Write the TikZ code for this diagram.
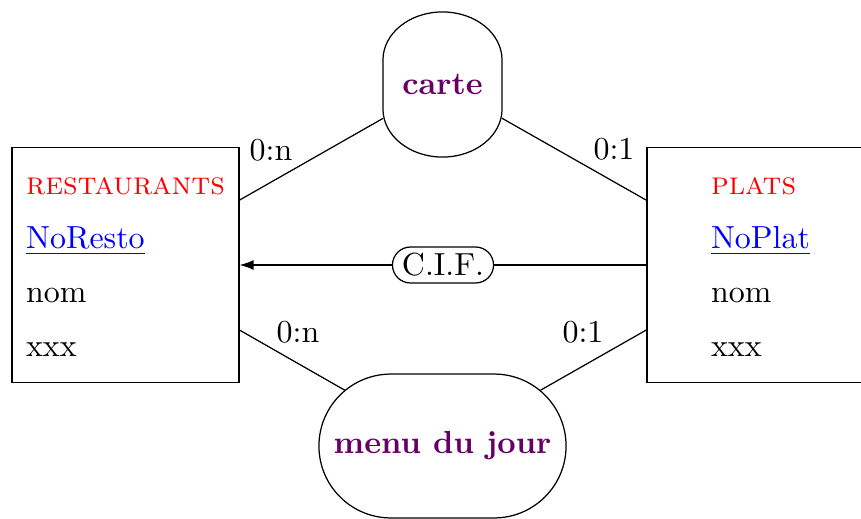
\documentclass[tikz,border=0pt]{standalone}
\usetikzlibrary{shapes.misc,arrows.meta}
\definecolor{relcol}{RGB}{102,0,102}
\newcommand\myfont{\fontsize{10.3pt}{12.4pt}\selectfont}
\begin{document}
\begin{tikzpicture}[x=0.3225pt,y=0.3225pt,
  every node/.style={font=\myfont},
  entity/.style={draw, rectangle, minimum width=73.2pt, minimum height=75.5pt, inner sep=3pt},
  relbox/.style={draw=none, rectangle, outer sep=0pt, minimum width=38.4pt, minimum height=46.8pt, inner sep=0pt, font=\myfont\bfseries, text=relcol},
  relround/.style={draw, rounded rectangle, minimum width=79.7pt, minimum height=46.4pt, inner sep=0pt, font=\myfont\bfseries, text=relcol},
  cif/.style={draw, fill=white, rectangle, rounded corners=5.8pt, minimum width=32.6pt, minimum height=11.6pt, inner sep=0pt},
  card/.style={anchor=base, inner sep=0pt},
  link/.style={line width=0.4pt}]
\useasboundingbox (0,0) rectangle (861,518);
\clip (0,0) rectangle (861,518);
% entities
\node[entity] (resto) at (125.5,253) {\renewcommand\arraystretch{1.403}\begin{tabular}{@{}l@{}}\textcolor{red}{\textsc{restaurants}}\\ \textcolor{blue}{\underline{NoResto}}\\ nom\\ xxx\end{tabular}};
\node[entity] (plats) at (760.5,253) {\renewcommand\arraystretch{1.403}\begin{tabular}{@{}l@{}}\textcolor{red}{\textsc{plats}}\\ \textcolor{blue}{\underline{NoPlat}}\\ nom\\ xxx\end{tabular}};
% relations
\node[relbox] (carte) at (442.5,433.5) {carte};
\draw[link] ([yshift=-15.48pt]carte.north west) -- ([yshift=15.48pt]carte.south west)
  arc[start angle=180, end angle=270, x radius=19.2pt, y radius=15.48pt]
  arc[start angle=270, end angle=360, x radius=19.2pt, y radius=15.48pt]
  -- ([yshift=-15.48pt]carte.north east)
  arc[start angle=0, end angle=90, x radius=19.2pt, y radius=15.48pt]
  arc[start angle=90, end angle=180, x radius=19.2pt, y radius=15.48pt] -- cycle;
\node[relround] (menu) at (442.5,72) {menu du jour};
% connectors
\draw[link] (resto) -- (carte);
\draw[link] (carte) -- (plats);
\draw[link] (resto) -- (menu);
\draw[link] (menu) -- (plats);
\draw[link,-{Latex[length=4.5pt,width=3.2pt]}] (plats) -- node[cif] (cifl) {C.I.F.} (resto);
% cardinalities
\node[card] (c1) at (271,358) {0:n};
\node[card] (c2) at (614,359) {0:1};
\node[card] (c3) at (298,176) {0:n};
\node[card] (c4) at (583,176) {0:1};
\end{tikzpicture}
\end{document}
